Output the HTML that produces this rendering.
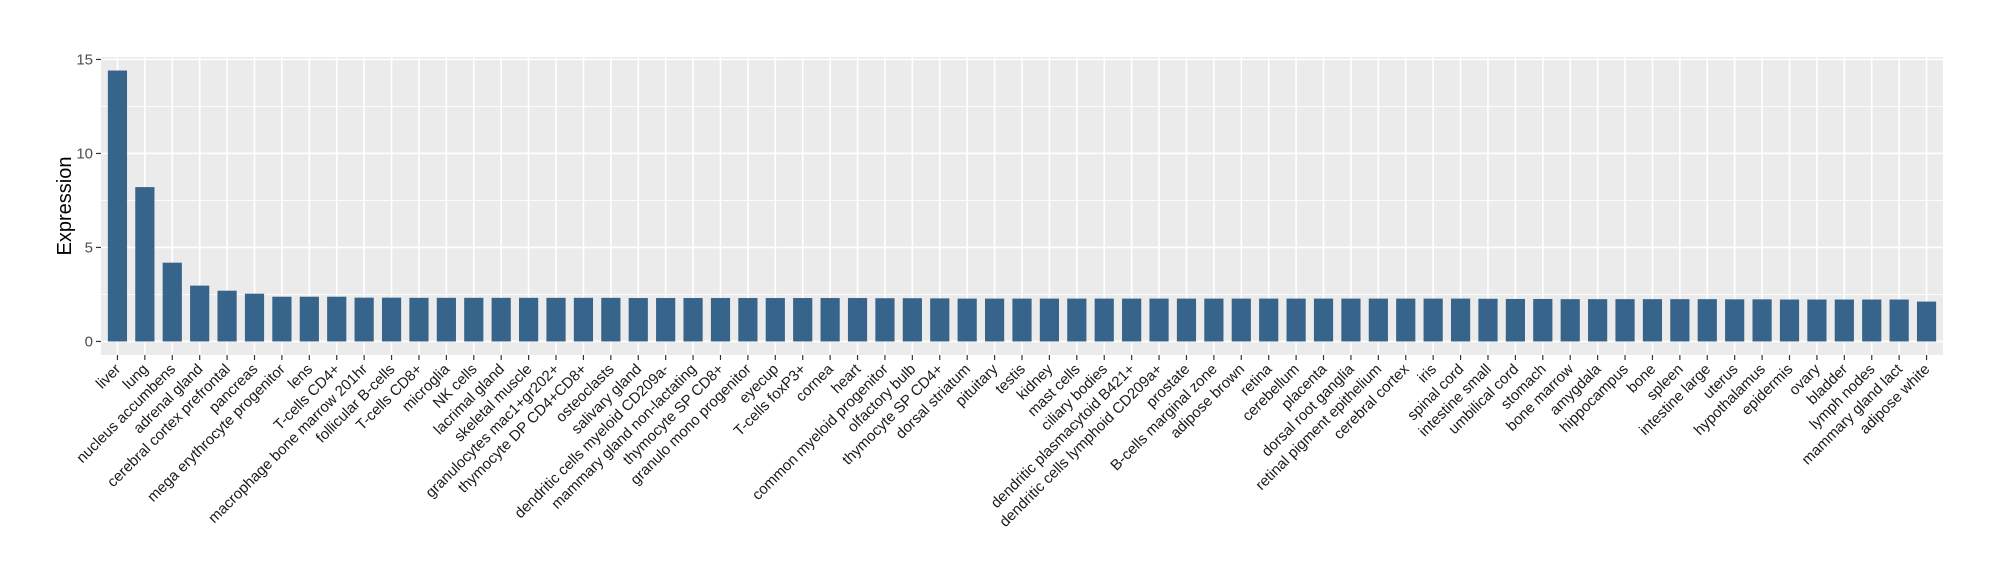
<!DOCTYPE html>
<html><head><meta charset="utf-8"><style>
html,body{margin:0;padding:0;background:#fff;}
svg{display:block;font-family:"Liberation Sans",Arial,sans-serif;}
</style></head><body>
<svg id="chart" width="2000" height="580" viewBox="0 0 2000 580"></svg>
<script>
const categories = ["liver","lung","nucleus accumbens","adrenal gland","cerebral cortex prefrontal","pancreas","mega erythrocyte progenitor","lens","T-cells CD4+","macrophage bone marrow 201hr","follicular B-cells","T-cells CD8+","microglia","NK cells","lacrimal gland","skeletal muscle","granulocytes mac1+gr202+","thymocyte DP CD4+CD8+","osteoclasts","salivary gland","dendritic cells myeloid CD209a-","mammary gland non-lactating","thymocyte SP CD8+","granulo mono progenitor","eyecup","T-cells foxP3+","cornea","heart","common myeloid progenitor","olfactory bulb","thymocyte SP CD4+","dorsal striatum","pituitary","testis","kidney","mast cells","ciliary bodies","dendritic plasmacytoid B421+","dendritic cells lymphoid CD209a+","prostate","B-cells marginal zone","adipose brown","retina","cerebellum","placenta","dorsal root ganglia","retinal pigment epithelium","cerebral cortex","iris","spinal cord","intestine small","umbilical cord","stomach","bone marrow","amygdala","hippocampus","bone","spleen","intestine large","uterus","hypothalamus","epidermis","ovary","bladder","lymph nodes","mammary gland lact","adipose white"];
const values = [14.41,8.21,4.19,2.97,2.70,2.54,2.38,2.38,2.38,2.33,2.33,2.32,2.32,2.32,2.32,2.32,2.32,2.32,2.32,2.31,2.31,2.31,2.31,2.31,2.31,2.31,2.31,2.31,2.30,2.30,2.29,2.28,2.28,2.28,2.28,2.28,2.28,2.28,2.28,2.28,2.28,2.28,2.28,2.28,2.28,2.28,2.28,2.28,2.28,2.28,2.27,2.26,2.26,2.25,2.25,2.25,2.25,2.25,2.25,2.24,2.24,2.23,2.23,2.23,2.23,2.23,2.12];
const yTicks = [0,5,10,15];
const yTickLabels = ["0","5","10","15"];

const NS="http://www.w3.org/2000/svg";
const svg=document.getElementById('chart');
const L=101,R=1943,T=57,B=355;
const maxV=Math.max(...values);
const yMin=-0.05*maxV, yMax=maxV*1.05;
const y=v=>B-(v-yMin)/(yMax-yMin)*(B-T);
const step=(R-L)/(categories.length+0.2);
const x=i=>L+(0.6+i)*step;
function mk(tag,attrs){const e=document.createElementNS(NS,tag);for(const k in attrs)e.setAttribute(k,attrs[k]);svg.appendChild(e);return e;}

const panel=mk('rect',{x:L,y:T,width:R-L,height:B-T,fill:'#EBEBEB'});


// minor grid
for(let i=0;i<yTicks.length-1;i++){
  const v=(yTicks[i]+yTicks[i+1])/2;
  const g=mk('line',{x1:L,x2:R,y1:y(v),y2:y(v),stroke:'#fff','stroke-width':0.8});
  
  
}
yTicks.forEach((v,i)=>{
  const g=mk('line',{x1:L,x2:R,y1:y(v),y2:y(v),stroke:'#fff','stroke-width':1.6});
  
  
  const t=mk('line',{x1:L-5,x2:L,y1:y(v),y2:y(v),stroke:'#333','stroke-width':1.2});
  
  
  const lb=mk('text',{x:L-8,y:y(v)+5,'text-anchor':'end','font-size':15,fill:'#4D4D4D'});
  lb.textContent=yTickLabels[i];
  
  
});
categories.forEach((c,i)=>{
  const cx=x(i);
  const g=mk('line',{x1:cx,x2:cx,y1:T,y2:B,stroke:'#fff','stroke-width':1.6});
  
  
});
categories.forEach((c,i)=>{
  const cx=x(i), w=step*0.7;
  const b=mk('rect',{x:cx-w/2,y:y(values[i]),width:w,height:y(0)-y(values[i]),fill:'#36648B'});
  
  
  const t=mk('line',{x1:cx,x2:cx,y1:B,y2:B+5,stroke:'#333','stroke-width':1.2});
  
  
  const ax=cx+4, ay=B+15;
  const lb=mk('text',{x:ax,y:ay,'text-anchor':'end','font-size':15,fill:'#1a1a1a',transform:`rotate(-45 ${ax} ${ay})`});
  lb.textContent=c;
  
  
});
const yt=mk('text',{x:0,y:0,'text-anchor':'middle','font-size':20,fill:'#000',transform:`translate(71 ${(T+B)/2}) rotate(-90)`});
yt.textContent='Expression';


</script>
</body></html>
